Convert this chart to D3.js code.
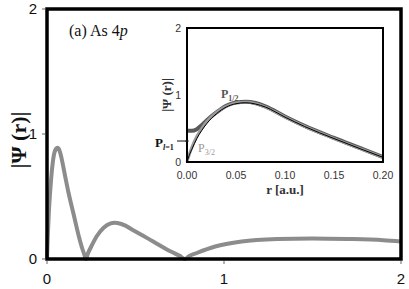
<!DOCTYPE html>
<html><head><meta charset="utf-8">
<script src="https://cdn.jsdelivr.net/npm/d3@7"></script>
<style>body{margin:0;background:#fff}svg{display:block}</style>
</head><body>
<script>
// Main panel data: |Psi(r)| for As 4p
const mainR   = [0,0.005,0.01,0.02,0.03,0.04,0.05,0.06,0.07,0.08,0.1,0.12,0.15,0.18,0.2,0.21,0.22,0.23,0.25,0.28,0.32,0.36,0.38,0.42,0.5,0.6,0.7,0.75,0.78,0.8,0.85,0.95,1.1,1.3,1.5,1.7,1.9,2.0];
const mainVal = [0,0.2,0.36,0.58,0.74,0.84,0.88,0.89,0.87,0.82,0.68,0.54,0.36,0.18,0.08,0.04,0.0,0.04,0.1,0.18,0.25,0.285,0.29,0.28,0.22,0.14,0.06,0.025,0.0,0.02,0.05,0.1,0.14,0.16,0.165,0.16,0.15,0.14];
const mainXTicks = [0,1,2];
const mainYTicks = [0,1,2];

// Inset data
const insetR  = [0,0.0025,0.005,0.01,0.015,0.02,0.03,0.04,0.05,0.06,0.07,0.08,0.1,0.12,0.15,0.18,0.2];
const pL1     = [0,0.11,0.19,0.35,0.47,0.57,0.72,0.82,0.87,0.885,0.865,0.82,0.67,0.53,0.35,0.18,0.07];
const p32     = [0,0.12,0.22,0.38,0.5,0.6,0.74,0.83,0.88,0.89,0.87,0.82,0.67,0.53,0.35,0.18,0.07];
const p12     = [0.47,0.465,0.465,0.49,0.55,0.62,0.74,0.84,0.89,0.9,0.88,0.83,0.68,0.54,0.36,0.19,0.075];
const insetXTicks = [0,0.05,0.1,0.15,0.2];
const insetYTicks = [0,1,2];

const W=409,H=289;
const svg=d3.select("body").append("svg").attr("width",W).attr("height",H);
const sans="'Liberation Sans', Arial, sans-serif";
const serif="'Liberation Serif', 'Times New Roman', serif";

// main scales
const x=d3.scaleLinear().domain([0,2]).range([47,401]);
const y=d3.scaleLinear().domain([0,2]).range([259,9]);

// main curve
const line=d3.line().x((d,i)=>x(mainR[i])).y(d=>y(d)).curve(d3.curveMonotoneX);
svg.append("path").datum(mainVal).attr("d",line).attr("fill","none")
  .attr("stroke","#8c8c8c").attr("stroke-width",4).attr("stroke-linejoin","round");

// main frame
svg.append("path").attr("d",`M${x(0)},${y(0)}V${y(2)}H${x(2)}V${y(0)}Z`)
  .attr("fill","none").attr("stroke","#000").attr("stroke-width",3.5);

// main ticks
svg.append("g").selectAll("text").data(mainXTicks).join("text")
  .attr("x",d=>x(d)).attr("y",284).attr("text-anchor","middle")
  .attr("font-family",sans).attr("font-size",15).attr("fill","#111").text(d=>d);
svg.append("g").selectAll("line").data(mainXTicks).join("line")
  .attr("x1",d=>x(d)).attr("x2",d=>x(d)).attr("y1",261).attr("y2",264).attr("stroke","#666").attr("stroke-width",1);
svg.append("g").selectAll("text").data(mainYTicks).join("text")
  .attr("x",37).attr("y",d=>y(d)+5).attr("text-anchor","end")
  .attr("font-family",sans).attr("font-size",15).attr("fill","#111").text(d=>d);
svg.append("g").selectAll("line").data(mainYTicks).join("line")
  .attr("x1",42).attr("x2",45).attr("y1",d=>y(d)).attr("y2",d=>y(d)).attr("stroke","#666").attr("stroke-width",1);

// main y label
svg.append("text").attr("transform","translate(26,140) rotate(-90)").attr("text-anchor","middle")
  .attr("font-family",serif).attr("font-size",22).attr("font-weight","bold")
  .attr("fill","#111").text("|Ψ (r)|");

// panel title
const t=svg.append("text").attr("x",69).attr("y",36).attr("font-family",serif)
  .attr("font-size",16).attr("fill","#111");
t.append("tspan").text("(a) As 4");
t.append("tspan").attr("font-style","italic").text("p");

// inset
const xi=d3.scaleLinear().domain([0,0.2]).range([187,383]);
const yi=d3.scaleLinear().domain([0,2]).range([162,28]);
const g=svg.append("g");
g.append("rect").attr("x",xi(0)).attr("y",yi(2)).attr("width",xi(0.2)-xi(0)).attr("height",yi(0)-yi(2)).attr("fill","#fff");
const li=arr=>d3.line().x((d,i)=>xi(insetR[i])).y(d=>yi(d)).curve(d3.curveMonotoneX)(arr);
g.append("path").attr("d",li(p12)).attr("fill","none").attr("stroke","#5a5a5a").attr("stroke-width",4);
g.append("path").attr("d",li(p32)).attr("fill","none").attr("stroke","#9a9a9a").attr("stroke-width",3);
g.append("path").attr("d",li(pL1)).attr("fill","none").attr("stroke","#000").attr("stroke-width",1);
g.append("path").attr("d",`M${xi(0)},${yi(2)}H${xi(0.2)}V${yi(0)}H${xi(0)}Z`)
  .attr("fill","none").attr("stroke","#000").attr("stroke-width",2);

g.append("g").selectAll("text").data(insetXTicks).join("text")
  .attr("x",d=>xi(d)).attr("y",179).attr("text-anchor","middle")
  .attr("font-family",sans).attr("font-size",10.5).attr("fill","#333").text(d=>d.toFixed(2));
g.append("g").selectAll("text").data(insetYTicks).join("text")
  .attr("x",181).attr("y",d=>yi(d)+4).attr("text-anchor","end")
  .attr("font-family",sans).attr("font-size",10.5).attr("fill","#333").text(d=>d);
g.append("text").attr("x",285).attr("y",194).attr("text-anchor","middle")
  .attr("font-family",serif).attr("font-size",13).attr("font-weight","bold")
  .attr("fill","#333").text("r [a.u.]");
g.append("text").attr("transform","translate(171,95) rotate(-90)").attr("text-anchor","middle")
  .attr("font-family",serif).attr("font-size",13).attr("font-weight","bold")
  .attr("fill","#333").text("|Ψ (r)|");

// curve labels
const l12=g.append("text").attr("x",221).attr("y",98).attr("font-family",serif).attr("font-size",12).attr("font-weight","bold").attr("fill","#555");
l12.append("tspan").text("P");
l12.append("tspan").attr("font-size",8).attr("dy",3).text("1/2");
const l32=g.append("text").attr("x",198).attr("y",152).attr("font-family",serif).attr("font-size",12).attr("fill","#999");
l32.append("tspan").text("P");
l32.append("tspan").attr("font-size",8).attr("dy",3).text("3/2");
const l1=g.append("text").attr("x",155).attr("y",147).attr("font-family",serif).attr("font-size",13).attr("font-weight","bold").attr("fill","#111");
l1.append("tspan").text("P");
l1.append("tspan").attr("font-size",8).attr("dy",3).attr("font-style","italic").text("l");
l1.append("tspan").attr("font-size",8).text("=1");
g.append("line").attr("x1",177).attr("x2",187).attr("y1",141).attr("y2",141).attr("stroke","#111").attr("stroke-width",1);
g.append("circle").attr("cx",187).attr("cy",141).attr("r",1.5).attr("fill","#111");
</script>
</body></html>
